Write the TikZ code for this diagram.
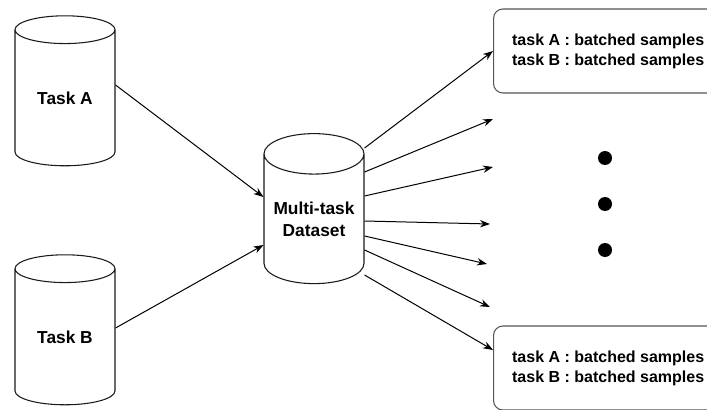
\documentclass[tikz,border=0pt]{standalone}
\usepackage{xcolor}
\usepackage{fontspec}
\setmainfont{Liberation Sans}
\usepackage{tikz}
\usetikzlibrary{arrows.meta,positioning,shapes.geometric,calc}
\definecolor{StoreLine}  {HTML}{1A1A1A}
\definecolor{BoxLine}    {HTML}{555555}
\definecolor{InkBlack}   {HTML}{000000}

\tikzset{
  store/.style={cylinder,shape border rotate=90,draw=StoreLine,line width=0.8pt,
                aspect=0.5,minimum width=75pt,minimum height=112.5pt,inner sep=0pt,
                align=center,font=\bfseries\fontsize{13}{16.5}\selectfont},
  batch/.style={draw=BoxLine,rounded corners=7pt,line width=0.8pt,anchor=west,
                minimum width=172pt,minimum height=63pt,align=left,
                font=\bfseries\fontsize{12}{15}\selectfont},
  dot/.style={circle,fill=InkBlack,inner sep=0pt,minimum size=10.5pt},
  link/.style={draw=InkBlack,line width=0.75pt,-{Stealth[length=7.5pt,width=5.5pt]}}
}

\begin{document}
\begin{tikzpicture}[x=0.75pt,y=-0.75pt]
    \useasboundingbox (0,0) rectangle (707,410);
    % sources
    \node[store] (taskA) at (65,98) {Task A};
    \node[store] (taskB) at (65,337) {Task B};
    \node[store] (data) at (314,219) {Multi-task\\Dataset};
    % outputs
    \node[batch] (batchTop) at (493,51) {task A : batched samples\\task B : batched samples};
    \node[batch] (batchBot) at (493,368) {task A : batched samples\\task B : batched samples};
    \node[dot] (dot1) at (605,158) {};
    \node[dot] (dot2) at (605,204) {};
    \node[dot] (dot3) at (605,250) {};
    % merge
    \draw[link] (taskA.east |- 0,85) -- (data.west |- 0,197);
    \draw[link] (taskB.east |- 0,328) -- (data.west |- 0,245);
    % fan out
    \draw[link] (data.east |- 0,148) -- (batchTop.west);
    \foreach \i/\sy/\ex/\ey in {2/172/493/119,3/196/493/167,4/221/490/224,5/236/487/264,6/250/490/307}{
      \coordinate (tip\i) at (\ex,\ey);
      \draw[link] (data.east |- 0,\sy) -- (tip\i);
    }
    \draw[link] (data.east |- 0,275) -- ($(batchBot.west)+(0,-18)$);
  \end{tikzpicture}
\end{document}
